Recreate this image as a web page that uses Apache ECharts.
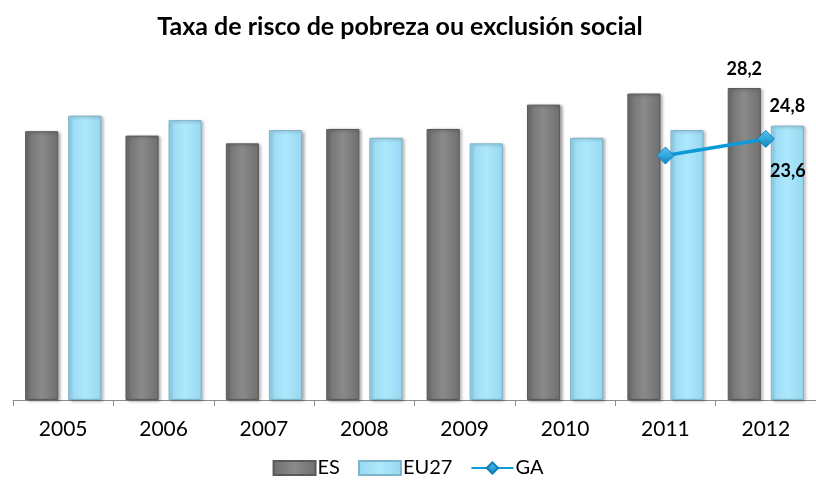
<!DOCTYPE html>
<html>
<head>
<meta charset="utf-8">
<script src="https://cdn.jsdelivr.net/npm/echarts@6/dist/echarts.min.js"></script>
<style>
  html, body { margin: 0; padding: 0; background: #fff; }
  #chart { width: 816px; height: 484px; }
</style>
</head>
<body>
<div id="chart"></div>
<script>
var years = ['2005', '2006', '2007', '2008', '2009', '2010', '2011', '2012'];
var esValues = [24.3, 23.9, 23.2, 24.5, 24.5, 26.7, 27.7, 28.2];
var eu27Values = [25.7, 25.3, 24.4, 23.7, 23.2, 23.7, 24.4, 24.8];
var gaValues = [null, null, null, null, null, null, 22.1, 23.6];

var chart = echarts.init(document.getElementById('chart'), null, { renderer: 'canvas' });

function comma(v) {
  return String(v).replace('.', ',');
}

// only the last year carries a value label
function lastOnly(p) {
  return p.dataIndex === years.length - 1 ? comma(p.value) : '';
}

function hGrad(edge, mid) {
  return new echarts.graphic.LinearGradient(0, 0, 1, 0, [
    { offset: 0, color: edge },
    { offset: 0.5, color: mid },
    { offset: 1, color: edge }
  ]);
}

var option = {
  animation: false,
  textStyle: { fontFamily: 'Lato, "Liberation Sans", sans-serif' },
  title: {
    text: 'Taxa de risco de pobreza ou exclusión social',
    left: 395,
    textAlign: 'center',
    top: 9,
    textStyle: { fontSize: 25, fontWeight: 'bold', color: '#000', fontFamily: 'Lato, sans-serif' }
  },
  legend: {
    bottom: 1,
    left: 'center',
    itemWidth: 42,
    itemHeight: 14,
    itemGap: 18,
    textStyle: { fontSize: 20, color: '#000', padding: [0, 0, 0, -3] },
    data: [
      { name: 'ES', icon: 'rect' },
      { name: 'EU27', icon: 'rect' },
      { name: 'GA' }
    ]
  },
  grid: { left: 13, width: 807, top: 46, bottom: 84, containLabel: false },
  xAxis: {
    type: 'category',
    data: years,
    axisLine: { show: true, lineStyle: { color: '#8c8c8c', width: 1 } },
    axisTick: { show: true, length: 6, lineStyle: { color: '#8c8c8c' } },
    axisLabel: { fontSize: 21, color: '#000', margin: 19 }
  },
  yAxis: {
    type: 'value',
    min: 0,
    max: 32,
    show: false,
    splitLine: { show: false }
  },
  series: [
    {
      name: 'ES',
      type: 'bar',
      data: esValues,
      barWidth: '33%',
      barGap: '30%',
      itemStyle: {
        color: hGrad('#6f6f6f', '#8a8a8a'),
        borderColor: '#5a5a5a',
        borderWidth: 1,
        shadowColor: 'rgba(0,0,0,0.35)',
        shadowBlur: 3,
        shadowOffsetX: 2,
        shadowOffsetY: 1
      },
      label: {
        show: true,
        position: 'top',
        distance: 10,
        formatter: lastOnly,
        fontSize: 18,
        fontWeight: 'bold',
        color: '#000'
      }
    },
    {
      name: 'EU27',
      type: 'bar',
      data: eu27Values,
      barWidth: '33%',
      itemStyle: {
        color: hGrad('#96d8f2', '#aee8fc'),
        borderColor: '#7fb3c8',
        borderWidth: 1,
        shadowColor: 'rgba(0,0,0,0.3)',
        shadowBlur: 3,
        shadowOffsetX: 2,
        shadowOffsetY: 1
      },
      label: {
        show: true,
        position: 'top',
        distance: 10,
        formatter: lastOnly,
        fontSize: 18,
        fontWeight: 'bold',
        color: '#000'
      }
    },
    {
      name: 'GA',
      type: 'line',
      data: gaValues,
      symbol: 'diamond',
      symbolSize: 17,
      lineStyle: { color: '#0d9ad6', width: 3.5 },
      itemStyle: {
        color: new echarts.graphic.LinearGradient(0, 0, 0, 1, [
          { offset: 0, color: '#5cc6f2' },
          { offset: 1, color: '#0a86c2' }
        ]),
        borderColor: '#0a7fb6',
        borderWidth: 1
      },
      label: {
        show: true,
        position: 'bottom',
        distance: 14,
        offset: [22, 0],
        formatter: lastOnly,
        fontSize: 18,
        fontWeight: 'bold',
        color: '#000'
      },
      z: 5
    }
  ]
};

chart.setOption(option);
</script>
</body>
</html>
